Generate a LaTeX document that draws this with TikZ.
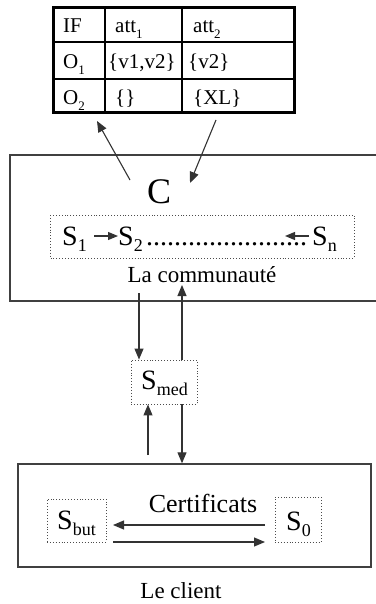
\documentclass[tikz,border=0pt]{standalone}
\usepackage{fontspec}
\setmainfont{Liberation Serif}
\usetikzlibrary{arrows.meta}
\newcommand\fsz[1]{\fontsize{#1}{#1}\selectfont}
% lowered subscript: size, text
\newcommand\lowsub[2]{\raisebox{-0.24em}{\fsz{#1}#2}}
\tikzset{
  frame/.style={draw=black!75, line width=1.4pt},
  dotbox/.style={draw=black!70, dotted, line width=0.9pt},
  conn/.style={draw=black!80, line width=1.1pt},
  arr/.style={conn, -{Triangle[length=11pt,width=9pt]}},
  txt/.style={inner sep=0pt, anchor=base west},
}
\begin{document}
\begin{tikzpicture}[x=1pt, y=-1pt]
\useasboundingbox (0,0) rectangle (375,604);

% ---- attribute table ----
\draw[line width=1.2pt] (105,8) -- (105,113) (182,8) -- (182,113)
  (53,42) -- (294,42) (53,79) -- (294,79);
\draw[line width=3pt] (53,8) rectangle (294,113);
\begin{scope}[every node/.style={txt}, font=\fsz{21pt}]
  \node (if)  at (63,33) {IF};
  \node (a1)  at (115,33) {att\lowsub{13pt}{1}};
  \node (a2)  at (193,33) {att\lowsub{13pt}{2}};
  \node (o1)  at (63,69) {O\lowsub{13pt}{1}};
  \node (v12) at (108,69) {\{v1,v2\}};
  \node (v2)  at (188,69) {\{v2\}};
  \node (o2)  at (63,105) {O\lowsub{13pt}{2}};
  \node (e)   at (115,105) {\{\}};
  \node (xl)  at (193,105) {\{XL\}};
\end{scope}

% ---- community box ----
\draw[frame] (378,155) -- (10,155) -- (10,301) -- (378,301);
\node[txt, font=\fsz{36pt}] (C) at (147,203) {C};
\draw[dotbox] (50,215) rectangle (354,258);
\begin{scope}[every node/.style={txt}, font=\fsz{28pt}]
  \node (s1) at (62,245) {S\lowsub{18pt}{1}};
  \node (s2) at (118,245) {S\lowsub{18pt}{2}};
  \node (dots) at (146,245) {.......................};
  \node (sn) at (312,245) {S\lowsub{18pt}{n}};
\end{scope}
\coordinate (s1r) at (94,236);
\coordinate (s2l) at (118,236);
\coordinate (snl) at (309,236);
\coordinate (snt) at (285,236);
\draw[arr, -{Triangle[length=10pt,width=8pt]}] (s1r) -- (s2l);
\draw[arr, -{Triangle[length=10pt,width=8pt]}] (snl) -- (snt);
\node[anchor=base, inner sep=0pt, font=\fsz{23pt}] (comm) at (202,282) {La communauté};

% ---- table <-> community ----
\coordinate (cq) at (130,180);
\coordinate (tq) at (97,121);
\coordinate (tr) at (216,120);
\coordinate (cr) at (190,183);
\draw[arr] (cq) -- (tq);
\draw[arr] (tr) -- (cr);

% ---- mediator ----
\node[dotbox, minimum width=66pt, minimum height=44pt, inner sep=0pt] (smed) at (164,382) {};
\node[txt, font=\fsz{28pt}] (smedt) at (141,389) {S\lowsub{18pt}{med}};
\coordinate (cdown) at (139,293);
\coordinate (cup) at (182,285);
\coordinate (kup) at (148,455);
\draw[arr] (cdown) -- (cdown |- smed.north);
\draw[arr] (cup |- smed.north) -- (cup);
\draw[arr] (kup) -- (kup |- smed.south);

% ---- client box ----
\node[frame, minimum width=353pt, minimum height=103pt, inner sep=0pt] (client) at (194.5,515.5) {};
\draw[arr] (cup |- smed.south) -- (cup |- client.north);
\node[dotbox, minimum width=59pt, minimum height=43pt, inner sep=0pt] (sbut) at (76.5,520.5) {};
\node[txt, font=\fsz{28pt}] (sbutt) at (57,529) {S\lowsub{18pt}{but}};
\node[dotbox, minimum width=46pt, minimum height=45pt, inner sep=0pt] (s0) at (298,519.5) {};
\node[txt, font=\fsz{28pt}] (s0t) at (286,530) {S\lowsub{18pt}{0}};
\node[anchor=base, inner sep=0pt, font=\fsz{26pt}] (cert) at (203,512) {Certificats};
\coordinate (cl) at (113,525);
\coordinate (cr2) at (265,525);
\coordinate (dl) at (113,542);
\coordinate (dr) at (265,542);
\draw[arr] (cr2) -- (cl);
\draw[arr] (dl) -- (dr);
\node[anchor=base, inner sep=0pt, font=\fsz{23pt}] (lecl) at (181,598) {Le client};
\end{tikzpicture}
\end{document}
